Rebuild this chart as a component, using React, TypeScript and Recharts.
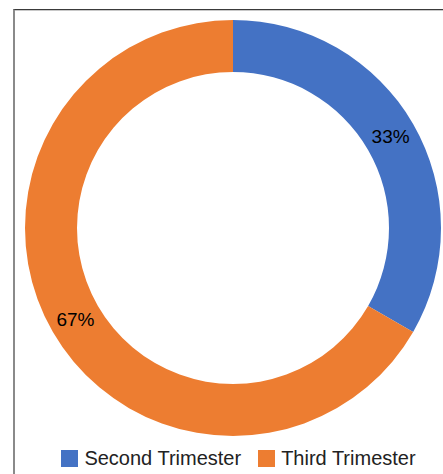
import React from 'react';
import { PieChart, Pie, Cell, Legend } from 'recharts';

const categories = ['Second Trimester', 'Third Trimester'];
const values = [33.33, 66.67];
const colors = ['#4472C4', '#ED7D31'];

const data = categories.map((name, i) => ({ name, value: values[i] }));

const FONT = '"Liberation Sans", Arial, sans-serif';
const RAD = Math.PI / 180;

const renderLabel = (props: any) => {
  const { cx, cy, midAngle, innerRadius, outerRadius, percent } = props;
  const r = (innerRadius + outerRadius) / 2;
  const x = cx + r * Math.cos(-midAngle * RAD);
  const y = cy + r * Math.sin(-midAngle * RAD);
  return (
    <text
      x={x}
      y={y}
      fill="#000"
      fontSize={19}
      fontFamily={FONT}
      textAnchor="middle"
      dominantBaseline="central"
    >
      {`${Math.round(percent * 100)}%`}
    </text>
  );
};

const renderLegend = () => (
  <div
    style={{
      display: 'flex',
      justifyContent: 'center',
      alignItems: 'center',
      fontFamily: FONT,
      fontSize: 20,
      color: '#222',
      lineHeight: '22px',
    }}
  >
    {categories.map((c, i) => (
      <div
        key={c}
        style={{ display: 'flex', alignItems: 'center', marginLeft: i === 0 ? 0 : 17 }}
      >
        <span
          style={{
            display: 'inline-block',
            width: 17,
            height: 17,
            background: colors[i],
            marginRight: 6,
          }}
        />
        <span>{c}</span>
      </div>
    ))}
  </div>
);

export default function App() {
  return (
    <div
      style={{
        position: 'fixed',
        left: 0,
        top: 0,
        width: 443,
        height: 474,
        background: '#fff',
        overflow: 'hidden',
      }}
    >
      <div
        style={{
          position: 'absolute',
          left: 13,
          top: 9,
          width: 520,
          height: 520,
          borderLeft: '2px solid #8a8a8a',
          borderTop: '1px solid #3a3a3a',
          boxShadow: 'inset 0 1px 0 #c8c8c8',
        }}
      />
      <div style={{ position: 'absolute', left: 0, top: 0 }}>
        <PieChart width={443} height={474} margin={{ top: 0, right: 0, bottom: 0, left: 0 }}>
          <Pie
            data={data}
            dataKey="value"
            nameKey="name"
            cx={233}
            cy={228}
            innerRadius={156}
            outerRadius={208}
            startAngle={90}
            endAngle={-270}
            stroke="none"
            labelLine={false}
            label={renderLabel}
            isAnimationActive={false}
          >
            {data.map((d, i) => (
              <Cell key={d.name} fill={colors[i]} />
            ))}
          </Pie>
          <Legend
            content={renderLegend}
            wrapperStyle={{ position: 'absolute', left: 14, top: 447, width: 449 }}
          />
        </PieChart>
      </div>
    </div>
  );
}
